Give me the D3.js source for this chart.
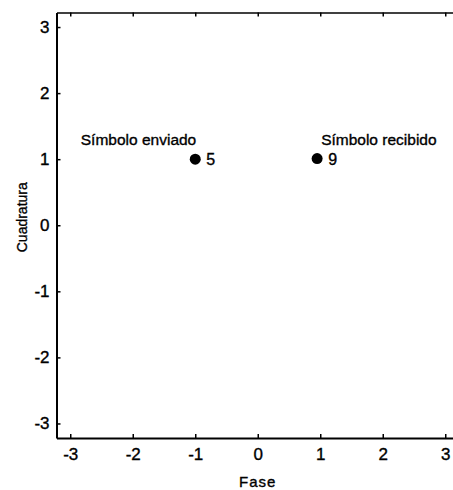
<!DOCTYPE html>
<html>
<head>
<meta charset="utf-8">
<script src="https://cdn.jsdelivr.net/npm/d3@7"></script>
<style>
  html, body { margin: 0; padding: 0; background: #fff; overflow: hidden; }
  svg { display: block; }
  svg text { font-family: "Liberation Sans", Arial, sans-serif; fill: #000; stroke: #000; stroke-width: 0.35px; }
</style>
</head>
<body>
<svg id="chart" width="453" height="490"></svg>
<script>
// Constellation: transmitted vs received symbol
const tickValues = [-3, -2, -1, 0, 1, 2, 3];
const pointNames = ["Símbolo enviado", "Símbolo recibido"];
const pointIndex = ["5", "9"];
const fase = [-1.0, 0.95];
const cuadratura = [1.0, 1.01];

const lim = 3.22;
const svg = d3.select("#chart");

const x = d3.scaleLinear().domain([-lim, lim]).range([56.5, 459]);
const y = d3.scaleLinear().domain([-lim, lim]).range([438, 12.5]);

const tickLen = 4;
const g = svg.append("g");

// axes with inward ticks (frame continues past the right edge)
const fmt = d => String(d);
const axBottom = g.append("g").attr("transform", `translate(0,${y(-lim)})`)
  .call(d3.axisBottom(x).tickValues(tickValues).tickSizeInner(-tickLen).tickSizeOuter(0).tickPadding(10).tickFormat(fmt));
const axTop = g.append("g").attr("transform", `translate(0,${y(lim)})`)
  .call(d3.axisTop(x).tickValues(tickValues).tickSizeInner(-tickLen).tickSizeOuter(0).tickFormat(""));
const axLeft = g.append("g").attr("transform", `translate(${x(-lim)},0)`)
  .call(d3.axisLeft(y).tickValues(tickValues).tickSizeInner(-tickLen).tickSizeOuter(0).tickPadding(7).tickFormat(fmt));

[axBottom, axTop, axLeft].forEach(a => {
  a.select(".domain").attr("stroke", "#000").attr("stroke-width", 2);
  a.selectAll(".tick line").attr("stroke", "#000").attr("stroke-width", 1.5);
  a.selectAll("text").attr("font-size", 17).attr("fill", "#000")
    .attr("font-family", "'Liberation Sans', Arial, sans-serif");
});
axTop.select(".domain").attr("stroke-width", 1.5);

// axis titles
svg.append("text").attr("x", x(0)).attr("y", 487)
  .attr("text-anchor", "middle").attr("font-size", 15)
  .attr("letter-spacing", 1).text("Fase");
svg.append("text")
  .attr("transform", `translate(27,${y(0) - 8}) rotate(-90)`)
  .attr("text-anchor", "middle").attr("font-size", 14).text("Cuadratura");

// symbols
const pts = fase.map((f, i) => ({ f, q: cuadratura[i], name: pointNames[i], idx: pointIndex[i] }));
svg.selectAll("circle.sym").data(pts).join("circle").attr("class", "sym")
  .attr("cx", d => x(d.f)).attr("cy", d => y(d.q)).attr("r", 5.5).attr("fill", "#000");

svg.selectAll("text.idx").data(pts).join("text").attr("class", "idx")
  .attr("x", d => x(d.f) + 11).attr("y", d => y(d.q) + 6)
  .attr("font-size", 16).text(d => d.idx);

svg.selectAll("text.name").data(pts).join("text").attr("class", "name")
  .attr("font-size", 15.5).text(d => d.name)
  .attr("y", d => y(d.q) - 14)
  .attr("text-anchor", (d, i) => i === 0 ? "end" : "start")
  .attr("x", (d, i) => i === 0 ? x(d.f) + 1 : x(d.f) + 4);
</script>
</body>
</html>
